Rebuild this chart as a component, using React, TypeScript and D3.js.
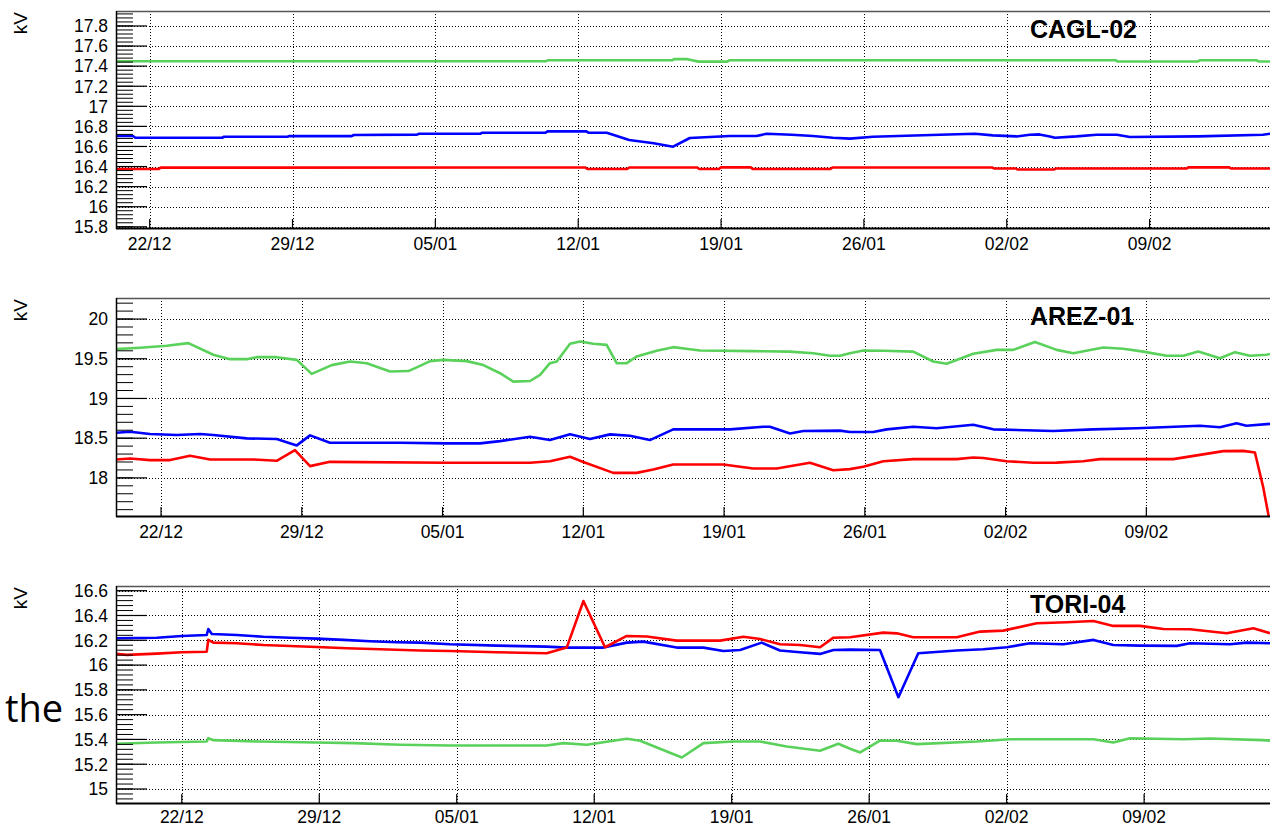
import React from "react";
import * as d3 from "d3";

// Time is expressed in days since 22/12 (2015-12-22, UTC)
const BASE = Date.UTC(2015, 11, 22);
const DAY = 86400000;
const X_TICK_DAYS = [0, 7, 14, 21, 28, 35, 42, 49];
const fmtDay = d3.utcFormat("%d/%m");

type Pt = [number, number];

// ---------- CAGL-02 ----------
const CAGL_GREEN: Pt[] = [
  [-1.65, 17.448], [19.4, 17.448], [19.5, 17.458], [25.6, 17.458], [25.7, 17.47], [26.3, 17.47],
  [26.9, 17.445], [28.3, 17.445], [28.4, 17.458], [47.35, 17.458], [47.45, 17.446], [51.35, 17.446],
  [51.45, 17.458], [54.25, 17.458], [54.35, 17.446], [55, 17.446],
];
const CAGL_BLUE: Pt[] = [
  [-1.65, 16.704], [-0.82, 16.704], [-0.7, 16.687], [3.55, 16.687], [3.65, 16.697], [6.75, 16.697],
  [6.85, 16.703], [9.9, 16.703], [10.0, 16.714], [13.1, 16.718], [13.2, 16.727], [16.2, 16.727],
  [16.3, 16.737], [19.4, 16.737], [19.5, 16.75], [21.4, 16.75], [21.5, 16.737], [22.4, 16.737],
  [23.5, 16.665], [24.7, 16.632], [25.65, 16.598], [26.47, 16.684], [27.45, 16.694], [28.43, 16.704],
  [29.74, 16.704], [30.23, 16.727], [31.46, 16.717], [32.5, 16.704], [33.48, 16.687], [34.31, 16.678],
  [35.44, 16.697], [37.09, 16.707], [38.72, 16.717], [40.44, 16.727], [41.32, 16.71], [42.48, 16.7],
  [43.13, 16.717], [43.6, 16.72], [44.11, 16.7], [44.36, 16.687], [45.42, 16.7], [46.4, 16.717],
  [47.4, 16.717], [48.03, 16.694], [51.38, 16.7], [54.55, 16.717], [55, 16.73],
];
const CAGL_RED: Pt[] = [
  [-1.65, 16.376], [0.45, 16.376], [0.55, 16.389], [21.35, 16.391], [21.45, 16.376], [23.4, 16.376],
  [23.5, 16.39], [26.83, 16.39], [26.93, 16.376], [27.9, 16.376], [28.0, 16.392], [29.45, 16.392],
  [29.55, 16.376], [33.36, 16.376], [33.46, 16.39], [41.3, 16.39], [41.4, 16.38], [42.45, 16.38],
  [42.55, 16.37], [44.3, 16.37], [44.4, 16.38], [50.8, 16.38], [50.9, 16.392], [52.9, 16.392],
  [53.0, 16.38], [55, 16.38],
];

// ---------- AREZ-01 ----------
const AREZ_GREEN: Pt[] = [
  [-2.24, 19.621], [-1.04, 19.638], [0.28, 19.663], [1.36, 19.697], [2.6, 19.55], [3.43, 19.495],
  [4.26, 19.495], [4.76, 19.52], [5.75, 19.52], [6.75, 19.486], [7.49, 19.31], [8.49, 19.42],
  [9.4, 19.465], [10.23, 19.444], [11.39, 19.34], [12.3, 19.345], [12.88, 19.41], [13.38, 19.47],
  [14.04, 19.486], [15.2, 19.47], [16.03, 19.42], [16.86, 19.318], [17.52, 19.212], [18.35, 19.22],
  [18.85, 19.297], [19.34, 19.444], [19.68, 19.465], [20.34, 19.688], [20.84, 19.718], [21.5, 19.688],
  [22.16, 19.675], [22.66, 19.444], [23.16, 19.444], [23.65, 19.528], [24.65, 19.6], [25.47, 19.646],
  [26.31, 19.62], [26.8, 19.604], [29.45, 19.596], [31.27, 19.59], [32.44, 19.57], [33.27, 19.537],
  [33.76, 19.537], [34.26, 19.57], [34.92, 19.604], [35.92, 19.6], [37.41, 19.59], [38.4, 19.465],
  [39.07, 19.436], [40.39, 19.562], [41.56, 19.612], [42.38, 19.612], [43.46, 19.71], [44.54, 19.612],
  [45.37, 19.57], [46.86, 19.641], [47.85, 19.625], [48.85, 19.59], [50.01, 19.537], [50.84, 19.537],
  [51.58, 19.59], [52.66, 19.507], [53.41, 19.583], [54.15, 19.537], [54.98, 19.55], [55.15, 19.56],
];
const AREZ_BLUE: Pt[] = [
  [-2.24, 18.568], [-1.54, 18.581], [-0.55, 18.552], [0.78, 18.54], [1.94, 18.552], [2.6, 18.54],
  [4.26, 18.497], [5.75, 18.489], [6.75, 18.409], [7.41, 18.535], [8.4, 18.442], [11.88, 18.442],
  [14.21, 18.434], [15.86, 18.434], [16.86, 18.463], [18.35, 18.518], [19.34, 18.476], [20.34, 18.548],
  [21.33, 18.489], [22.33, 18.548], [23.32, 18.53], [24.31, 18.476], [25.47, 18.611], [28.29, 18.611],
  [29.95, 18.644], [30.28, 18.644], [31.28, 18.56], [31.94, 18.59], [33.76, 18.595], [34.26, 18.577],
  [35.42, 18.577], [36.09, 18.611], [37.41, 18.644], [38.57, 18.624], [40.39, 18.669], [41.39, 18.611],
  [44.37, 18.59], [46.36, 18.611], [48.52, 18.624], [51.67, 18.657], [52.66, 18.637], [53.49, 18.687],
  [53.98, 18.657], [55.15, 18.68],
];
const AREZ_RED: Pt[] = [
  [-2.24, 18.232], [-1.54, 18.245], [-0.55, 18.224], [0.45, 18.224], [1.44, 18.278], [2.44, 18.232],
  [4.59, 18.232], [5.75, 18.215], [6.66, 18.35], [7.41, 18.148], [8.4, 18.202], [14.21, 18.19],
  [18.35, 18.19], [19.34, 18.21], [20.34, 18.265], [21.0, 18.2], [22.49, 18.063], [23.65, 18.063],
  [24.48, 18.106], [25.47, 18.169], [27.96, 18.169], [29.45, 18.119], [30.62, 18.119], [32.27, 18.19],
  [33.43, 18.097], [34.26, 18.11], [34.92, 18.139], [35.92, 18.21], [37.41, 18.236], [39.57, 18.236],
  [40.39, 18.257], [40.89, 18.25], [42.05, 18.21], [43.38, 18.19], [44.54, 18.192], [45.86, 18.21],
  [46.69, 18.236], [50.34, 18.236], [52.83, 18.337], [53.82, 18.34], [54.4, 18.32], [54.81, 17.886],
  [55.06, 17.55], [55.24, 17.3],
];

// ---------- TORI-04 ----------
const TORI_BLUE: Pt[] = [
  [-3.35, 16.216], [-1.27, 16.221], [0, 16.235], [1.27, 16.243], [1.35, 16.291], [1.53, 16.251],
  [2.8, 16.243], [4.15, 16.229], [5.51, 16.221], [6.87, 16.213], [8.23, 16.203], [9.59, 16.192],
  [10.95, 16.184], [12.13, 16.181], [13.66, 16.168], [16.04, 16.157], [18.58, 16.149], [19.6, 16.141],
  [21.47, 16.141], [22.66, 16.181], [23.5, 16.189], [25.2, 16.141], [26.56, 16.141], [27.58, 16.114],
  [28.43, 16.122], [29.53, 16.181], [30.46, 16.117], [31.48, 16.103], [32.5, 16.09], [33.18, 16.122],
  [34.03, 16.125], [35.55, 16.122], [36.49, 15.741], [37.5, 16.095], [39.46, 16.117], [40.81, 16.128],
  [42.01, 16.144], [43.19, 16.176], [44.89, 16.168], [46.42, 16.203], [47.43, 16.162], [48.79, 16.157],
  [50.66, 16.155], [51.34, 16.176], [53.37, 16.168], [54.23, 16.181], [55.41, 16.176],
];
const TORI_RED: Pt[] = [
  [-3.35, 16.09], [-2.8, 16.082], [-1.27, 16.092], [0, 16.103], [1.27, 16.108], [1.35, 16.203],
  [1.61, 16.181], [2.8, 16.176], [4.15, 16.162], [5.51, 16.154], [6.87, 16.146], [8.4, 16.136],
  [10.1, 16.128], [12.13, 16.117], [13.66, 16.114], [16.04, 16.103], [18.58, 16.095], [19.6, 16.141],
  [20.45, 16.517], [21.55, 16.144], [22.66, 16.235], [23.68, 16.23], [25.2, 16.197], [27.41, 16.197],
  [28.6, 16.229], [29.45, 16.21], [30.46, 16.168], [31.48, 16.162], [32.5, 16.144], [33.18, 16.221],
  [34.03, 16.225], [35.72, 16.262], [36.41, 16.256], [37.25, 16.224], [39.46, 16.224], [40.65, 16.27],
  [41.83, 16.278], [43.53, 16.337], [45.06, 16.345], [46.42, 16.356], [47.43, 16.316], [48.79, 16.316],
  [49.98, 16.291], [51.34, 16.289], [53.21, 16.257], [54.56, 16.297], [55.41, 16.257],
];
const TORI_GREEN: Pt[] = [
  [-3.35, 15.365], [-1.27, 15.375], [1.27, 15.383], [1.35, 15.41], [1.61, 15.394], [3.9, 15.383],
  [6.87, 15.375], [8.74, 15.37], [11.11, 15.357], [13.66, 15.351], [18.58, 15.351], [19.43, 15.37],
  [20.62, 15.357], [22.66, 15.405], [23.34, 15.389], [25.46, 15.254], [26.56, 15.37], [28.09, 15.383],
  [29.45, 15.383], [30.8, 15.343], [32.5, 15.308], [33.43, 15.365], [34.03, 15.325], [34.54, 15.295],
  [35.55, 15.391], [36.41, 15.389], [37.42, 15.362], [40.48, 15.383], [42.17, 15.402], [46.42, 15.402],
  [47.43, 15.375], [48.28, 15.41], [51.0, 15.402], [52.36, 15.408], [55.04, 15.394], [55.41, 15.39],
];

const CAGL_Y_TICKS = [15.8, 16, 16.2, 16.4, 16.6, 16.8, 17, 17.2, 17.4, 17.6, 17.8];
const AREZ_Y_TICKS = [18, 18.5, 19, 19.5, 20];
const TORI_Y_TICKS = [15, 15.2, 15.4, 15.6, 15.8, 16, 16.2, 16.4, 16.6];

const GREEN = "#5ad15a";
const BLUE = "#0000ff";
const RED = "#ff0000";

const PANELS = [
  {
    title: "CAGL-02", top: 11, bottom: 228, xDomain: [-1.65, 54.9], yDomain: [15.788, 17.949],
    yTicks: CAGL_Y_TICKS, yMinor: 0.04, labelGap: 22,
    series: [{ data: CAGL_GREEN, color: GREEN }, { data: CAGL_BLUE, color: BLUE }, { data: CAGL_RED, color: RED }],
  },
  {
    title: "AREZ-01", top: 298, bottom: 516, xDomain: [-2.24, 55.15], yDomain: [17.52, 20.265],
    yTicks: AREZ_Y_TICKS, yMinor: 0.1, labelGap: 22,
    series: [{ data: AREZ_GREEN, color: GREEN }, { data: AREZ_BLUE, color: BLUE }, { data: AREZ_RED, color: RED }],
  },
  {
    title: "TORI-04", top: 586, bottom: 803, xDomain: [-3.35, 55.41], yDomain: [14.887, 16.638],
    yTicks: TORI_Y_TICKS, yMinor: 0.04, labelGap: 19.5,
    series: [{ data: TORI_GREEN, color: GREEN }, { data: TORI_BLUE, color: BLUE }, { data: TORI_RED, color: RED }],
  },
];

const LEFT = 116;
const RIGHT = 1270;
const FONT = "'Liberation Sans', Arial, Helvetica, sans-serif";
const toDate = (d: number) => new Date(BASE + d * DAY);

function Panel({ p, idx }: { p: (typeof PANELS)[number]; idx: number }) {
  const x = d3.scaleUtc().domain([toDate(p.xDomain[0]), toDate(p.xDomain[1])]).range([LEFT, RIGHT]);
  const y = d3.scaleLinear().domain(p.yDomain).range([p.bottom, p.top]);
  const line = d3
    .line<Pt>()
    .x((d) => x(toDate(d[0])))
    .y((d) => y(d[1]));
  const minor: number[] = [];
  const start = Math.ceil(p.yDomain[0] / p.yMinor - 1e-6);
  const end = Math.floor(p.yDomain[1] / p.yMinor + 1e-6);
  for (let i = start; i <= end; i++) minor.push(+(i * p.yMinor).toFixed(3));
  const clipId = `clip-${idx}`;
  return (
    <g>
      <defs>
        <clipPath id={clipId}>
          <rect x={LEFT} y={p.top} width={RIGHT - LEFT} height={p.bottom - p.top} />
        </clipPath>
      </defs>
      {/* grid */}
      {p.yTicks.map((t) => (
        <line key={"gy" + t} x1={LEFT} x2={RIGHT} y1={Math.round(y(t)) + 0.5} y2={Math.round(y(t)) + 0.5}
          stroke="#000" strokeWidth={1} strokeDasharray="1 2" />
      ))}
      {X_TICK_DAYS.map((d) => (
        <line key={"gx" + d} x1={Math.round(x(toDate(d))) + 0.5} x2={Math.round(x(toDate(d))) + 0.5}
          y1={p.top} y2={p.bottom} stroke="#000" strokeWidth={1} strokeDasharray="1 2" />
      ))}
      {/* data */}
      <g clipPath={`url(#${clipId})`}>
        {p.series.map((s, i) => (
          <path key={i} d={line(s.data) || ""} fill="none" stroke={s.color} strokeWidth={2.6}
            strokeLinejoin="round" />
        ))}
      </g>
      {/* frame top */}
      <line x1={LEFT} x2={RIGHT} y1={p.top + 0.5} y2={p.top + 0.5} stroke="#555" strokeWidth={1.5} />
      {/* y ticks */}
      {minor.map((t) => (
        <line key={"my" + t} x1={LEFT} x2={LEFT + 17} y1={y(t)} y2={y(t)} stroke="#000" strokeWidth={1} />
      ))}
      {p.yTicks.map((t) => (
        <line key={"My" + t} x1={LEFT} x2={LEFT + 31} y1={y(t)} y2={y(t)} stroke="#000" strokeWidth={1.2} />
      ))}
      {p.yTicks.map((t) => (
        <text key={"ly" + t} x={108} y={y(t) + 6.3} textAnchor="end" fontFamily={FONT} fontSize={17.5} fill="#000">
          {String(+t.toFixed(2))}
        </text>
      ))}
      {/* x ticks */}
      {X_TICK_DAYS.map((d) => (
        <line key={"tx" + d} x1={x(toDate(d))} x2={x(toDate(d))} y1={p.bottom} y2={p.bottom - 9}
          stroke="#000" strokeWidth={1.2} />
      ))}
      {X_TICK_DAYS.map((d) => (
        <text key={"lx" + d} x={x(toDate(d))} y={p.bottom + p.labelGap} textAnchor="middle" fontFamily={FONT}
          fontSize={17.5} fill="#000">
          {fmtDay(toDate(d))}
        </text>
      ))}
      {/* axes */}
      <line x1={LEFT + 0.5} x2={LEFT + 0.5} y1={p.top} y2={p.bottom + 1} stroke="#000" strokeWidth={1.5} />
      <line x1={LEFT} x2={RIGHT} y1={p.bottom + 0.5} y2={p.bottom + 0.5} stroke="#000" strokeWidth={2} />
      {/* axis title */}
      <text transform={`translate(27,${p.top + 1}) rotate(-90)`} textAnchor="end" fontFamily={FONT}
        fontSize={19} fill="#000">
        kV
      </text>
      {/* panel title */}
      <text x={1030} y={p.top + 27} fontFamily={FONT} fontWeight="bold" fontSize={25} fill="#000">
        {p.title}
      </text>
    </g>
  );
}

export default function App() {
  return (
    <svg width={1270} height={827} style={{ position: "absolute", left: 0, top: 0, background: "#fff" }}>
      <rect x={0} y={0} width={1270} height={827} fill="#fff" />
      {PANELS.map((p, i) => (
        <Panel key={p.title} p={p} idx={i} />
      ))}
      <text x={5} y={722} fontFamily="'Open Sans', sans-serif" fontSize={38} fill="#000">
        the
      </text>
    </svg>
  );
}
